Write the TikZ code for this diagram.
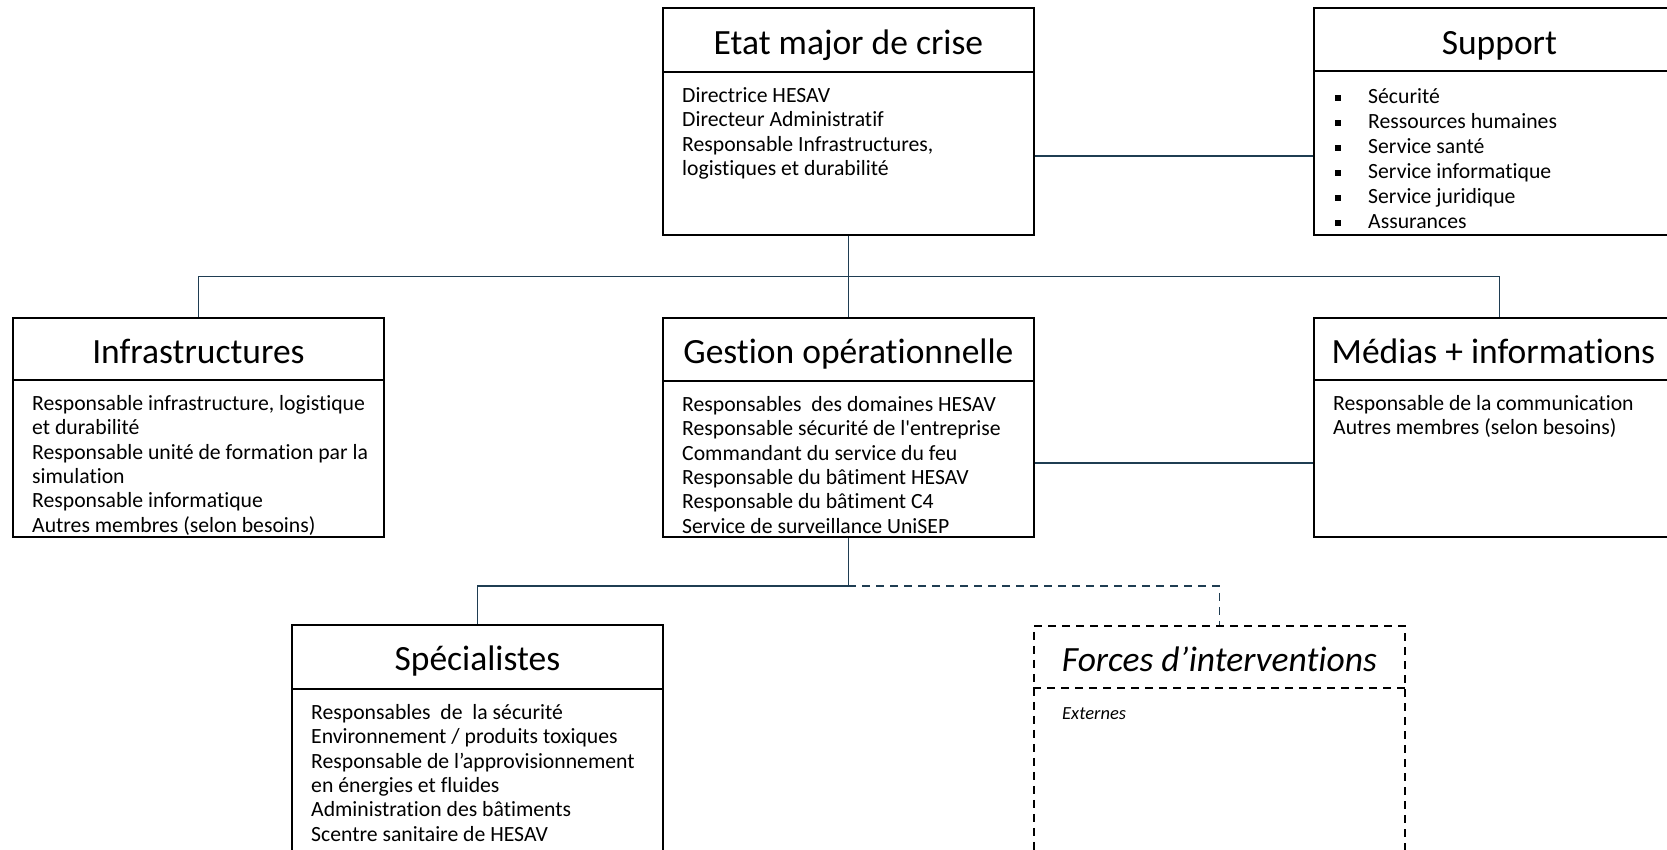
\documentclass[tikz,border=0pt]{standalone}
\usepackage{fontspec}
\setmainfont{Carlito}[Ligatures={NoCommon,NoContextual}, RawFeature={-calt}]
\usetikzlibrary{positioning,calc}
\definecolor{linkblue}{HTML}{1F3D52}
\newcommand\sqb{\makebox[33pt][l]{\rule[2.5pt]{6pt}{6pt}}}
\tikzset{orgbox/.style={draw, line width=1.8pt, minimum width=371pt, minimum height=#1, anchor=north west, inner sep=0pt},
  ttl/.style={anchor=base, inner sep=0pt, font=\fontsize{35.5}{40}\selectfont},
  txt/.style={anchor=north west, inner sep=0pt, align=left, font=\fontsize{21.7}{24.4}\selectfont},
  link/.style={draw=linkblue, line width=1.7pt},
  extdash/.style={dash pattern=on 8pt off 6pt}}

\begin{document}
\begin{tikzpicture}[x=1pt, y=-1pt]
  \useasboundingbox (0,0) rectangle (1667,850);
  \clip (0,0) rectangle (1667,850);
  % boxes
  \node[orgbox=227pt] (etat) at (662,7) {};
  \node[orgbox=227pt] (support) at (1313,7) {};
  \node[orgbox=219pt] (infra) at (12,317) {};
  \node[orgbox=219pt] (gestion) at (662,317) {};
  \node[orgbox=219pt] (medias) at (1313,317) {};
  \node[orgbox=260pt] (speci) at (291,624) {};
  \node[orgbox=260pt, extdash] (forces) at (1033,625) {};
  % header separators
  \foreach \b/\h in {etat/65, support/64, infra/63, gestion/64, medias/63, speci/65}
    \draw[line width=1.8pt] ($(\b.north west)+(0,\h)$) -- ($(\b.north east)+(0,\h)$);
  \draw[line width=1.8pt, extdash] ($(forces.north west)+(0,63)$) -- ($(forces.north east)+(0,63)$);
  % titles
  \node[ttl] (etatT) at ($(etat.north)+(0,48)$) {Etat major de crise};
  \node[ttl] (supportT) at ($(support.north)+(0,48)$) {Support};
  \node[ttl] (infraT) at ($(infra.north)+(0,46)$) {Infrastructures};
  \node[ttl] (gestionT) at ($(gestion.north)+(0,46)$) {Gestion opérationnelle};
  \node[ttl] (mediasT) at ($(medias.north)+(-6,46)$) {Médias + informations};
  \node[ttl] (speciT) at ($(speci.north)+(0,46)$) {Spécialistes};
  \node[ttl, font=\fontsize{35.5}{40}\selectfont\itshape] (forcesT) at ($(forces.north)+(0,46)$) {Forces d’interventions};
  % members
  \node[txt] (etatB) at ($(etat.north west)+(20,78)$) {\strut Directrice HESAV\\ Directeur Administratif\\ Responsable Infrastructures,\\ logistiques et durabilité};
  \node[txt, font=\fontsize{21.7}{25}\selectfont] (supportB) at ($(support.north west)+(22,78.5)$) {\strut\sqb Sécurité\\ \sqb Ressources humaines\\ \sqb Service santé\\ \sqb Service informatique\\ \sqb Service juridique\\ \sqb Assurances};
  \node[txt] (infraB) at ($(infra.north west)+(20,76)$) {\strut Responsable infrastructure, logistique\\ et durabilité\\ Responsable unité de formation par la\\ simulation\\ Responsable informatique\\ Autres membres (selon besoins)};
  \node[txt] (gestionB) at ($(gestion.north west)+(20,77)$) {\strut Responsables~ des domaines HESAV\\ Responsable sécurité de l\textquotesingle entreprise\\ Commandant du service du feu\\ Responsable du bâtiment HESAV\\ Responsable du bâtiment C4\\ Service de surveillance UniSEP};
  \node[txt] (mediasB) at ($(medias.north west)+(20,76)$) {\strut Responsable de la communication\\ Autres membres (selon besoins)};
  \node[txt] (speciB) at ($(speci.north west)+(20,78)$) {\strut Responsables~ de~ la sécurité\\ Environnement / produits toxiques\\ Responsable de l’approvisionnement\\ en énergies et fluides\\ Administration des bâtiments\\ Scentre sanitaire de HESAV};
  \node[txt, font=\fontsize{18.5}{20}\selectfont\itshape] (forcesB) at ($(forces.north west)+(29,80)$) {\strut Externes};
  % connectors
  \coordinate (busA) at ($(etat.south)!0.5!(gestion.north)$);
  \coordinate (busB) at ($(gestion.south)+(0,48)$);
  \draw[link] (etat.south) -- (gestion.north);
  \draw[link] (infra.north) |- (busA) -| (medias.north);
  \draw[link] ($(etat.north east)!0.65!(etat.south east)$) -- ($(support.north west)!0.65!(support.south west)$);
  \draw[link] ($(gestion.north east)!0.66!(gestion.south east)$) -- ($(medias.north west)!0.66!(medias.south west)$);
  \draw[link] (gestion.south) -- (busB) -| (speci.north);
  \draw[link, extdash] (busB) -| (forces.north);
\end{tikzpicture}
\end{document}
